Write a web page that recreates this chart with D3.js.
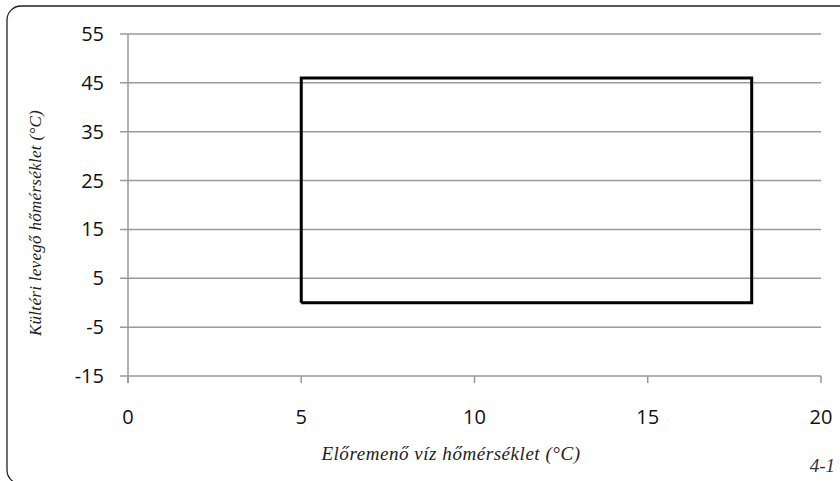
<!DOCTYPE html>
<html><head><meta charset="utf-8">
<script src="https://cdn.jsdelivr.net/npm/d3@7"></script>
<style>body{margin:0;background:#fff;} svg{display:block;}</style>
</head><body>
<svg id="c" width="840" height="481"></svg>
<script>
const xTicks = [0, 5, 10, 15, 20];
const yTicks = [-15, -5, 5, 15, 25, 35, 45, 55];
const boxX = [5, 18, 18, 5, 5];
const boxY = [0, 0, 46, 46, 0];
const xTitle = "Előremenő víz hőmérséklet (°C)";
const yTitle = "Kültéri levegő hőmérséklet (°C)";
const note = "4-1";

const svg = d3.select("#c");
const L = 128, R = 821, T = 34, B = 376;
const x = d3.scaleLinear().domain([0, 20]).range([L, R]);
const y = d3.scaleLinear().domain([-15, 55]).range([B, T]);

svg.append("rect").attr("x", 7).attr("y", 6).attr("width", 900).attr("height", 478)
  .attr("rx", 14).attr("fill", "none").attr("stroke", "#222").attr("stroke-width", 1.3);

const grid = "#999";
svg.append("g").selectAll("line").data(yTicks).join("line")
  .attr("x1", x(0) - 8).attr("x2", x(20)).attr("y1", d => y(d)).attr("y2", d => y(d))
  .attr("stroke", grid).attr("stroke-width", 1.5);
svg.append("line").attr("x1", x(0)).attr("x2", x(0)).attr("y1", y(55)).attr("y2", y(-15) + 7)
  .attr("stroke", grid).attr("stroke-width", 1.5);
svg.append("g").selectAll("line").data(xTicks).join("line")
  .attr("x1", d => x(d)).attr("x2", d => x(d)).attr("y1", y(-15)).attr("y2", y(-15) + 7)
  .attr("stroke", grid).attr("stroke-width", 1.5);

const sans = "'Open Sans', 'Liberation Sans', sans-serif";
svg.append("g").selectAll("text").data(yTicks).join("text")
  .attr("x", 104).attr("y", d => y(d)).attr("dy", "0.35em").attr("text-anchor", "end")
  .attr("font-family", sans).attr("font-size", 20).attr("fill", "#111").text(d => d);
svg.append("g").selectAll("text").data(xTicks).join("text")
  .attr("x", d => x(d)).attr("y", 424).attr("text-anchor", "middle")
  .attr("font-family", sans).attr("font-size", 20).attr("fill", "#111").text(d => d);

svg.append("path")
  .attr("d", d3.line().x(d => x(d[0])).y(d => y(d[1]))(boxX.map((v, i) => [v, boxY[i]])))
  .attr("fill", "none").attr("stroke", "#000").attr("stroke-width", 3).attr("stroke-linejoin", "miter");

const serif = "'Liberation Serif', 'DejaVu Serif', serif";
svg.append("text").attr("x", 451).attr("y", 460).attr("text-anchor", "middle")
  .attr("font-family", serif).attr("font-style", "italic").attr("font-size", 19)
  .attr("letter-spacing", 0.55).attr("fill", "#222").text(xTitle);
svg.append("text").attr("transform", "translate(41,223) rotate(-90)").attr("text-anchor", "middle")
  .attr("font-family", serif).attr("font-style", "italic").attr("font-size", 17)
  .attr("letter-spacing", 0.3).attr("fill", "#222").text(yTitle);
svg.append("text").attr("x", 835).attr("y", 472).attr("text-anchor", "end")
  .attr("font-family", serif).attr("font-style", "italic").attr("font-size", 19).attr("fill", "#333").text(note);
</script>
</body></html>
